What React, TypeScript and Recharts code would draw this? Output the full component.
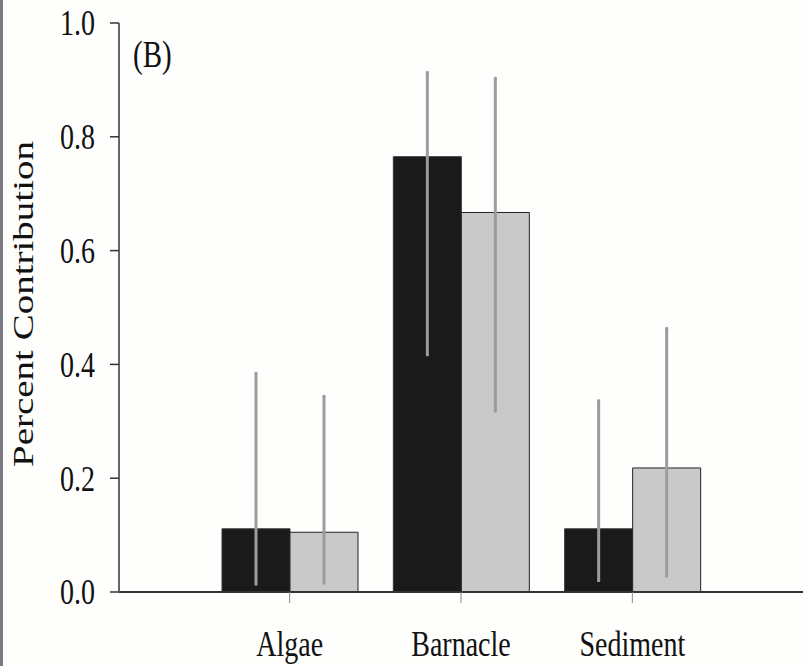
import { BarChart, Bar, XAxis, YAxis, ErrorBar } from "recharts";

const categories = ["Algae", "Barnacle", "Sediment"];
const blackValues = [0.111, 0.765, 0.111];
const blackLow = [0.014, 0.417, 0.02];
const blackHigh = [0.384, 0.913, 0.336];
const grayValues = [0.105, 0.667, 0.218];
const grayLow = [0.016, 0.318, 0.028];
const grayHigh = [0.344, 0.903, 0.463];
const yTicks = [0, 0.2, 0.4, 0.6, 0.8, 1.0];

const data = categories.map((name, i) => ({
  name,
  black: blackValues[i],
  blackErr: [blackValues[i] - blackLow[i], blackHigh[i] - blackValues[i]],
  gray: grayValues[i],
  grayErr: [grayValues[i] - grayLow[i], grayHigh[i] - grayValues[i]],
}));

const FONT = "'Liberation Serif', 'Times New Roman', serif";

const YTick = (props: any) => {
  const { x, y, payload } = props;
  return (
    <text
      transform={`translate(${x},${y}) scale(1,1.3)`}
      x={0}
      y={9.5}
      textAnchor="end"
      fontFamily={FONT}
      fontSize={28}
      fill="#111"
    >
      {Number(payload.value).toFixed(1)}
    </text>
  );
};

const XTick = (props: any) => {
  const { x, payload } = props;
  return (
    <text
      transform={`translate(${x},656) scale(1,1.3)`}
      x={0}
      y={0}
      textAnchor="middle"
      fontFamily={FONT}
      fontSize={28}
      fill="#111"
    >
      {payload.value}
    </text>
  );
};

const YLabel = () => (
  <text
    transform="translate(33,304) rotate(-90) scale(1.3,1)"
    x={0}
    y={0}
    textAnchor="middle"
    fontFamily={FONT}
    fontSize={30}
    fill="#111"
  >
    Percent Contribution
  </text>
);

export default function App() {
  return (
    <div
      style={{
        position: "absolute",
        left: 0,
        top: 0,
        width: 805,
        height: 666,
        background: "#fefefc",
        overflow: "hidden",
      }}
    >
      <div
        style={{
          position: "absolute",
          left: 0,
          top: 0,
          width: 3,
          height: 666,
          background: "#7c7a84",
        }}
      />
      <BarChart
        width={805}
        height={666}
        data={data}
        margin={{ top: 23, right: 2, bottom: 0, left: 0 }}
        barGap={0}
        barSize={68}
      >
        <XAxis
          dataKey="name"
          height={74}
          padding={{ left: 85, right: 85 }}
          axisLine={{ stroke: "#333", strokeWidth: 2 }}
          tickLine={{ stroke: "#888", strokeWidth: 1 }}
          tickSize={11}
          tick={<XTick />}
        />
        <YAxis
          width={119}
          domain={[0, 1]}
          ticks={yTicks}
          tickSize={9}
          tickMargin={15}
          axisLine={{ stroke: "#666", strokeWidth: 2 }}
          tickLine={{ stroke: "#333", strokeWidth: 1.5 }}
          tick={<YTick />}
          label={{ content: <YLabel /> }}
        />
        <Bar dataKey="black" fill="#1a1a1a" stroke="#333" strokeWidth={1} isAnimationActive={false}>
          <ErrorBar dataKey="blackErr" width={0} stroke="#9c9c9c" strokeWidth={3} strokeLinecap="round" />
        </Bar>
        <Bar dataKey="gray" fill="#c9c9c9" stroke="#222" strokeWidth={1} isAnimationActive={false}>
          <ErrorBar dataKey="grayErr" width={0} stroke="#9c9c9c" strokeWidth={3} strokeLinecap="round" />
        </Bar>
      </BarChart>
      <div
        style={{
          position: "absolute",
          left: 133,
          top: 36,
          fontFamily: FONT,
          fontSize: 29,
          lineHeight: "29px",
          color: "#111",
          transform: "scale(1,1.3)",
          transformOrigin: "0 0",
        }}
      >
        (B)
      </div>
    </div>
  );
}
